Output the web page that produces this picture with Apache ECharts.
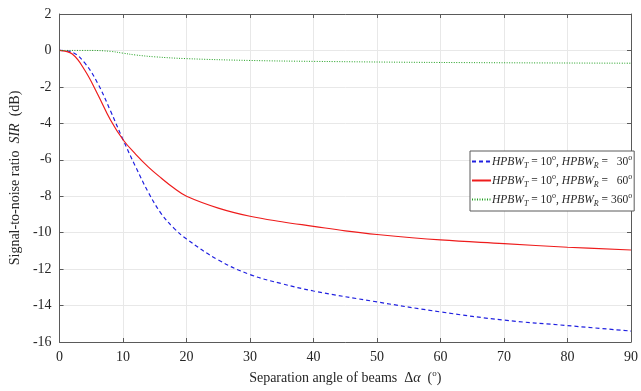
<!DOCTYPE html>
<html>
<head>
<meta charset="utf-8">
<script src="https://cdn.jsdelivr.net/npm/echarts@6/dist/echarts.min.js"></script>
<style>
  html, body { margin: 0; padding: 0; background: #fff; }
  #chart { width: 641px; height: 391px; }
</style>
</head>
<body>
<div id="chart"></div>
<script>
// 数据
const seriesNames = ['bw30', 'bw60', 'bw360'];
const bw30X = [0, 2, 4, 6, 8, 10, 12, 14, 16, 18, 20, 25, 30, 35, 40, 50, 60, 70, 80, 90];
const bw30Y = [0, -0.1, -0.7, -1.8, -3.3, -4.9, -6.4, -7.8, -8.95, -9.75, -10.35, -11.5, -12.3, -12.8, -13.2, -13.8, -14.35, -14.8, -15.1, -15.4];
const bw60X = [0, 2, 4, 6, 8, 10, 12, 14, 16, 18, 20, 25, 30, 35, 40, 45, 50, 60, 70, 80, 90];
const bw60Y = [0, -0.2, -1.1, -2.4, -3.8, -4.9, -5.7, -6.4, -7.0, -7.55, -8.0, -8.65, -9.1, -9.4, -9.65, -9.9, -10.1, -10.4, -10.6, -10.8, -10.95];
const bw360X = [0, 5, 8, 10, 12, 15, 20, 30, 40, 60, 90];
const bw360Y = [0, 0, -0.05, -0.15, -0.25, -0.35, -0.45, -0.55, -0.6, -0.66, -0.7];
const xTicks = [0, 10, 20, 30, 40, 50, 60, 70, 80, 90];
const yTicks = [2, 0, -2, -4, -6, -8, -10, -12, -14, -16];

const legendText = {
    bw30: '{i|HPBW}{sub|T}{n| = 10}{sup|o}{n|, }{i|HPBW}{sub|R}{n| =   30}{sup|o}',
    bw60: '{i|HPBW}{sub|T}{n| = 10}{sup|o}{n|, }{i|HPBW}{sub|R}{n| =   60}{sup|o}',
    bw360: '{i|HPBW}{sub|T}{n| = 10}{sup|o}{n|, }{i|HPBW}{sub|R}{n| = 360}{sup|o}'
};

const font = 'Liberation Serif, Times New Roman, serif';
const textColor = '#262626';

function pairs(xs, ys) {
    return xs.map((x, i) => [x, ys[i]]);
}

const chart = echarts.init(document.getElementById('chart'));

const gridLine = { show: true, lineStyle: { color: '#e8e8e8', width: 1 } };
const boxLine = { show: true, onZero: false, lineStyle: { color: '#5a5a5a', width: 1 } };
const inTick = { show: true, inside: true, length: 4, lineStyle: { color: '#5a5a5a' } };

const option = {
    animation: false,
    backgroundColor: '#fff',
    grid: { left: 52, right: 5, top: 14, bottom: 49 },
    legend: {
        orient: 'vertical',
        left: 470,
        top: 151,
        itemWidth: 19,
        itemHeight: 10,
        itemGap: 3,
        padding: [3, 2, 3, 1],
        borderColor: '#5a5a5a',
        borderWidth: 1,
        backgroundColor: '#fff',
        data: seriesNames,
        itemStyle: { opacity: 0 },
        formatter: name => legendText[name],
        textStyle: {
            fontFamily: font,
            color: textColor,
            fontSize: 11.5,
            padding: [0, 0, 0, -4],
            rich: {
                i: { fontFamily: font, fontStyle: 'italic', fontSize: 11.5, color: textColor },
                n: { fontFamily: font, fontSize: 11.5, color: textColor },
                sub: { fontFamily: font, fontStyle: 'italic', fontSize: 8, color: textColor, padding: [9, 0, 0, 0] },
                sup: { fontFamily: font, fontSize: 8, color: textColor, padding: [0, 0, 7, 0] }
            }
        }
    },
    xAxis: [{
        type: 'value',
        min: 0,
        max: 90,
        interval: 10,
        name: 'Separation angle of beams  {g|Δ}{a|α}  {n|(}{sup|o}{n|)}',
        nameLocation: 'middle',
        nameGap: 27,
        nameTextStyle: {
            fontFamily: font,
            fontSize: 14,
            color: textColor,
            rich: {
                g: { fontFamily: font, fontSize: 14, color: textColor },
                a: { fontFamily: font, fontStyle: 'italic', fontSize: 14, color: textColor },
                n: { fontFamily: font, fontSize: 14, color: textColor },
                sup: { fontFamily: font, fontSize: 9, color: textColor, padding: [0, 0, 9, 0] }
            }
        },
        axisLine: boxLine,
        axisTick: inTick,
        axisLabel: { fontFamily: font, fontSize: 14, color: textColor, margin: 8 },
        splitLine: gridLine
    }, {
        type: 'value',
        position: 'top',
        min: 0,
        max: 90,
        interval: 10,
        axisLine: boxLine,
        axisTick: inTick,
        axisLabel: { show: false },
        splitLine: { show: false }
    }],
    yAxis: [{
        type: 'value',
        min: -16,
        max: 2,
        interval: 2,
        name: 'Signal-to-noise ratio  {i|SIR}  (dB)',
        nameLocation: 'middle',
        nameGap: 30,
        nameTextStyle: {
            fontFamily: font,
            fontSize: 14,
            color: textColor,
            rich: {
                i: { fontFamily: font, fontStyle: 'italic', fontSize: 14, color: textColor }
            }
        },
        axisLine: boxLine,
        axisTick: inTick,
        axisLabel: { fontFamily: font, fontSize: 14, color: textColor, margin: 8 },
        splitLine: gridLine
    }, {
        type: 'value',
        position: 'right',
        min: -16,
        max: 2,
        interval: 2,
        axisLine: boxLine,
        axisTick: inTick,
        axisLabel: { show: false },
        splitLine: { show: false }
    }],
    series: [{
        name: 'bw30',
        type: 'line',
        smooth: 0.4,
        symbol: 'none',
        data: pairs(bw30X, bw30Y),
        lineStyle: { color: '#2020e0', width: 1.2, type: [4, 3] },
        itemStyle: { color: '#2020e0' }
    }, {
        name: 'bw60',
        type: 'line',
        smooth: 0.4,
        symbol: 'none',
        data: pairs(bw60X, bw60Y),
        lineStyle: { color: '#ee1c1c', width: 1.2 },
        itemStyle: { color: '#ee1c1c' }
    }, {
        name: 'bw360',
        type: 'line',
        smooth: 0.4,
        symbol: 'none',
        data: pairs(bw360X, bw360Y),
        lineStyle: { color: '#20a020', width: 1, type: [1, 1.5] },
        itemStyle: { color: '#20a020' }
    }]
};

chart.setOption(option);
</script>
</body>
</html>
